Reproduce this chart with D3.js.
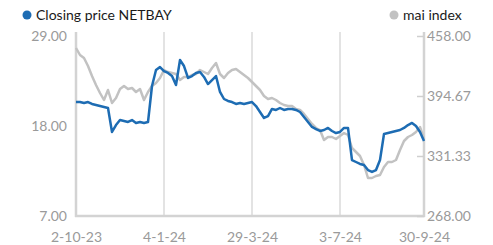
<!DOCTYPE html>
<html>
<head>
<meta charset="utf-8">
<script src="https://cdn.jsdelivr.net/npm/d3@7"></script>
<style>
  body { margin: 0; background: #fff; }
  text { font-family: Lato, "Noto Sans", sans-serif; }
  .axis text { fill: #9a9a9a; font-size: 14px; }
  .legend text { fill: #1a1a1a; font-size: 14px; }
</style>
</head>
<body>
<script>
// tick labels on the date axis and the sample index they sit on
var dateLabels = ['2-10-23', '4-1-24', '29-3-24', '3-7-24', '30-9-24'];
var dateIndex = [0, 22, 44, 66, 87];

var leftTicks = [7, 18, 29];
var rightTicks = [268, 331.333, 394.667, 458];

// closing price NETBAY (Baht)
var netbay = [
  20.93, 20.93, 20.81, 20.93, 20.69, 20.57, 20.44, 20.32, 20.20, 17.27,
  18.12, 18.73, 18.61, 18.49, 18.73, 18.37, 18.49, 18.37, 18.49, 22.89,
  24.84, 25.21, 24.72, 24.48, 24.11, 23.01, 26.07, 25.33, 23.87, 24.11,
  24.48, 24.60, 23.99, 23.13, 23.62, 24.11, 22.16, 21.30, 21.06, 20.93,
  20.69, 20.81, 20.69, 20.81, 20.93, 20.44, 19.71, 18.98, 19.22, 20.08,
  19.96, 20.20, 19.96, 20.08, 20.08, 19.96, 19.71, 19.10, 18.49, 17.88,
  17.63, 17.39, 17.51, 17.76, 17.39, 17.14, 17.27, 17.76, 17.76, 13.84,
  13.60, 13.36, 13.23, 12.62, 12.38, 12.62, 13.84, 17.02, 17.14, 17.27,
  17.39, 17.51, 17.76, 18.12, 18.37, 18.00, 17.27, 16.17
];

// mai index
var maiIndex = [
  445.33, 437.94, 434.78, 426.33, 415.78, 406.28, 397.83, 390.44, 401.00, 387.28,
  392.56, 402.06, 405.22, 402.06, 403.11, 398.89, 402.06, 390.44, 398.89, 405.22,
  408.39, 413.67, 422.11, 420.00, 418.94, 417.89, 411.56, 414.72, 414.72, 416.83,
  417.89, 422.11, 420.00, 417.89, 424.22, 429.50, 417.89, 413.67, 418.94, 422.11,
  423.17, 420.00, 416.83, 413.67, 409.44, 405.22, 401.00, 394.67, 391.50, 392.56,
  390.44, 387.28, 385.17, 384.11, 384.11, 380.94, 379.89, 375.67, 370.39, 365.11,
  360.89, 358.78, 348.22, 351.39, 351.39, 349.28, 352.44, 355.61, 353.50, 339.78,
  335.56, 331.33, 321.83, 308.11, 308.11, 310.22, 311.28, 319.72, 325.00, 325.00,
  327.11, 337.67, 347.17, 351.39, 353.50, 356.67, 361.94, 349.28
];

var width = 493, height = 245;
var margin = { top: 36, right: 69, bottom: 29, left: 76 };

var svg = d3.select('body').append('svg')
    .attr('width', width)
    .attr('height', height);

var x = d3.scaleLinear()
    .domain([0, netbay.length - 1])
    .range([margin.left, width - margin.right]);

var yLeft = d3.scaleLinear()
    .domain([7, 29])
    .range([height - margin.bottom, margin.top]);

var yRight = d3.scaleLinear()
    .domain([268, 458])
    .range([height - margin.bottom, margin.top]);

var plotTop = margin.top - 4;
var plotBottom = height - margin.bottom;

// vertical grid lines at the date ticks
svg.append('g')
    .selectAll('line')
    .data(dateIndex.slice(1, -1))
    .enter()
    .append('line')
    .attr('x1', d => x(d))
    .attr('x2', d => x(d))
    .attr('y1', plotTop)
    .attr('y2', plotBottom)
    .style('stroke', '#dadada')
    .style('stroke-width', 1.5);

// frame: left, right and bottom lines
var frame = svg.append('g')
    .style('stroke', '#d3d3d3')
    .style('stroke-width', 2.5);

frame.append('line')
    .attr('x1', x(0)).attr('x2', x(0))
    .attr('y1', plotTop).attr('y2', plotBottom + 1);

frame.append('line')
    .attr('x1', x(netbay.length - 1)).attr('x2', x(netbay.length - 1))
    .attr('y1', plotTop).attr('y2', plotBottom + 1);

frame.append('line')
    .attr('x1', x(0) - 1).attr('x2', x(netbay.length - 1) + 1)
    .attr('y1', plotBottom).attr('y2', plotBottom);

// axes
svg.append('g')
    .attr('class', 'axis')
    .attr('transform', `translate(${margin.left}, 0)`)
    .call(d3.axisLeft(yLeft)
        .tickValues(leftTicks)
        .tickSize(0)
        .tickPadding(9)
        .tickFormat(d3.format('.2f')))
    .call(g => g.select('.domain').remove());

svg.append('g')
    .attr('class', 'axis')
    .attr('transform', `translate(${width - margin.right}, 0)`)
    .call(d3.axisRight(yRight)
        .tickValues(rightTicks)
        .tickSize(-7)
        .tickPadding(3)
        .tickFormat(d3.format('.2f')))
    .call(g => g.select('.domain').remove())
    .call(g => g.selectAll('.tick line').style('stroke', '#cfcfcf').style('stroke-width', 1.5));

svg.append('g')
    .attr('class', 'axis')
    .attr('transform', `translate(0, ${plotBottom})`)
    .call(d3.axisBottom(x)
        .tickValues(dateIndex)
        .tickSize(0)
        .tickPadding(16)
        .tickFormat((d, i) => dateLabels[i]))
    .call(g => g.select('.domain').remove());

// the two lines, index behind the price
var maiLine = d3.line()
    .x((d, i) => x(i))
    .y(d => yRight(d));

var priceLine = d3.line()
    .x((d, i) => x(i))
    .y(d => yLeft(d));

svg.append('path')
    .datum(maiIndex)
    .attr('d', maiLine)
    .style('fill', 'none')
    .style('stroke', '#c2c2c2')
    .style('stroke-width', 2.5)
    .style('stroke-linejoin', 'round');

svg.append('path')
    .datum(netbay)
    .attr('d', priceLine)
    .style('fill', 'none')
    .style('stroke', '#1d6cb3')
    .style('stroke-width', 2.5)
    .style('stroke-linejoin', 'round');

// legend
var legend = svg.append('g').attr('class', 'legend');

legend.append('circle')
    .attr('cx', 27).attr('cy', 15).attr('r', 4.5)
    .style('fill', '#1d6cb3');
legend.append('text')
    .attr('x', 36).attr('y', 20)
    .text('Closing price NETBAY');

legend.append('circle')
    .attr('cx', 394).attr('cy', 15).attr('r', 4.5)
    .style('fill', '#c2c2c2');
legend.append('text')
    .attr('x', 403).attr('y', 20)
    .text('mai index');
</script>
</body>
</html>
